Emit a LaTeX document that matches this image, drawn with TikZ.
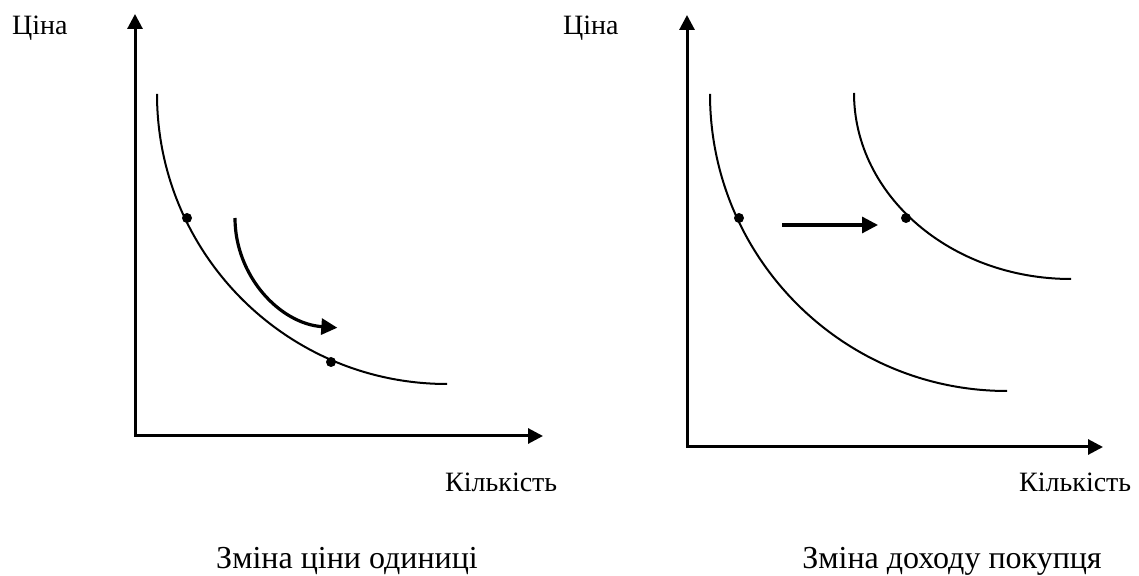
\documentclass[tikz,border=0pt]{standalone}
\usepackage{fontspec}
\setmainfont{Liberation Serif}
\usetikzlibrary{arrows.meta,calc}
\usepackage{tkz-euclide}
\tikzset{axis/.style={line width=3pt,{Triangle[length=15pt,width=15pt]}-{Triangle[length=15pt,width=15pt]}},
  curve/.style={line width=2pt},
  shift arrow/.style={line width=3.2pt,-{Triangle[length=16pt,width=16pt]}},
  lbl/.style={inner sep=0pt,font=\fontsize{28}{32}\selectfont},
  caption/.style={inner sep=0pt,anchor=base,font=\fontsize{32}{38}\selectfont}}

\begin{document}
\begin{tikzpicture}[x=1pt,y=1pt]
\tkzSetUpPoint[fill=black]
\useasboundingbox (0,0) rectangle (1139,575);

\tkzDefPoints{135/139/Oa,135/561/Ya,543/139/Xa,687/128/Ob,687/560/Yb,1103/128/Xb}
\tkzDefPoints{157/481/S,235/357/T,710/481/U,854/482/V,782/350/E,878/350/F}
\tkzDefPoints{187/357/A,331/213/B,739/357/C,906/357/D}

\draw[axis] (Ya) -- (Oa) -- (Xa);
\draw[axis] (Yb) -- (Ob) -- (Xb);

\draw[curve] (S) arc[start angle=180,end angle=270,radius=290];
\draw[curve] (U) arc[start angle=180,end angle=270,radius=297];
\draw[curve] (V) arc[start angle=180,end angle=270,x radius=217,y radius=186];

\draw[shift arrow] (T) arc[start angle=180,end angle=266,radius=110];
\draw[shift arrow] (E) -- (F);

\foreach \p in {A,B,C,D} \fill (\p) circle (5);

\node[lbl,anchor=base west] (pa) at (12,540) {Ціна};
\node[lbl,anchor=base west] (pb) at (563,540) {Ціна};
\node[lbl,anchor=base west] (qa) at (445,83) {Кількість};
\node[lbl,anchor=base west] (qb) at (1019,83) {Кількість};

\node[caption] (ca) at (347,7) {Зміна ціни одиниці};
\node[caption] (cb) at (952,7) {Зміна доходу покупця};

\end{tikzpicture}
\end{document}
